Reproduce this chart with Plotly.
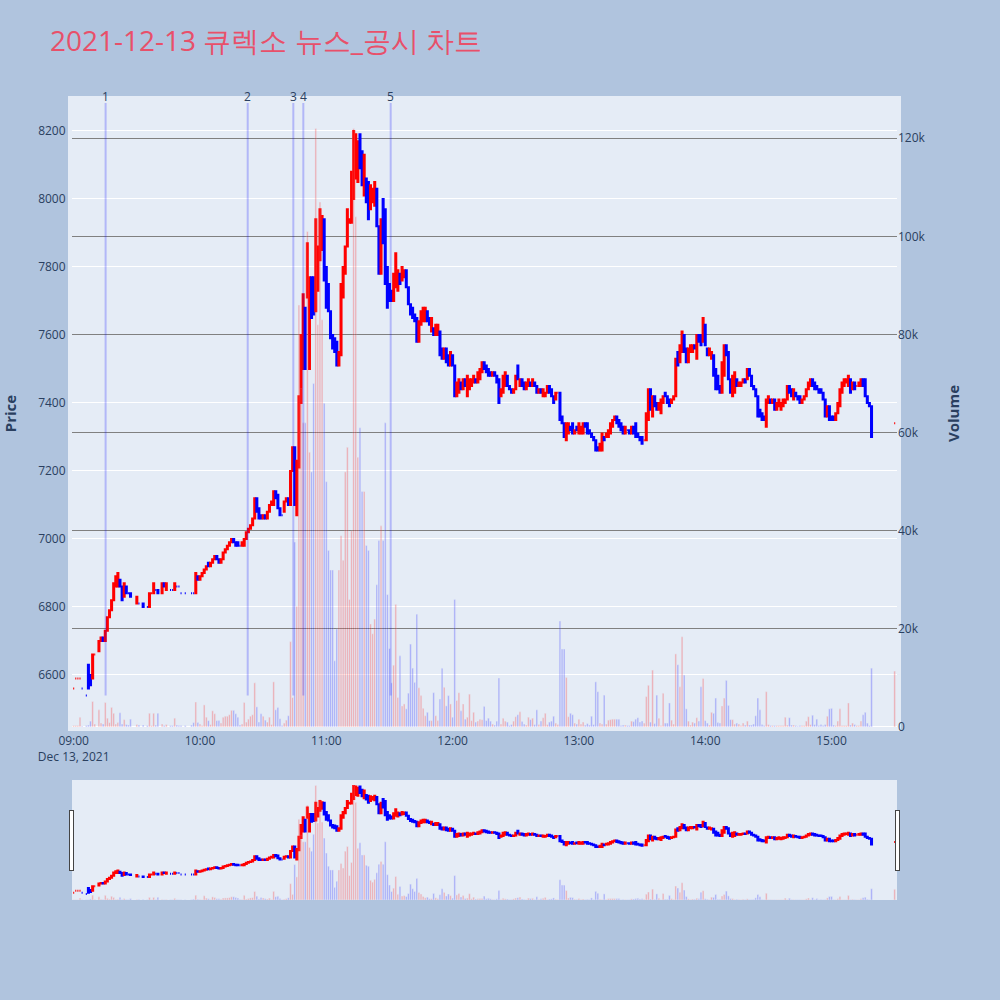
import plotly.graph_objects as go
from plotly.subplots import make_subplots
import pandas as pd

# 큐렉소 2021-12-13 1분봉 (09:00 ~ 15:30), 체결 없는 분은 None
opens = [
    6560, 6590, 6590, 6590, 6560, None, 6540, 6630, 6600, 6590,
    6660, None, 6670, 6700, 6710, 6700, 6730, 6770, 6790, 6820,
    6860, 6860, 6880, 6860, 6830, 6860, 6840, 6840, None, None,
    6810, 6810, None, 6810, None, 6800, 6800, 6840, 6840, 6850,
    6850, None, 6840, 6870, 6850, None, 6850, 6850, 6850, 6860,
    6860, 6840, None, 6840, None, None, 6840, 6840, 6840, 6890,
    6880, 6890, 6900, 6910, 6930, 6920, 6930, 6940, 6950, 6940,
    6930, 6940, 6960, 6970, 6980, 6990, 7000, 6990, 6990, 6980,
    6980, 6980, 7000, 7020, 7030, 7040, 7060, 7120, 7090, 7070,
    7060, 7070, 7060, 7080, 7100, 7100, 7140, 7130, 7090, 7070,
    7080, 7110, 7120, 7100, 7200, 7270, 7070, 7210, 7400, 7500,
    7680, 7710, 7500, 7770, 7770, 7670, 7730, 7820, 7850, 7940,
    7800, 7750, 7670, 7600, 7590, 7580, 7510, 7540, 7710, 7780,
    7860, 7930, 7930, 8000, 8060, 8050, 8190, 8140, 8010, 8060,
    8050, 7970, 7990, 7980, 8030, 7920, 7780, 8000, 7970, 7800,
    7750, 7730, 7700, 7740, 7730, 7780, 7760, 7770, 7790, 7740,
    7690, 7680, 7660, 7650, 7580, 7630, 7640, 7640, 7670, 7650,
    7610, 7620, 7600, 7600, 7610, 7560, 7530, 7560, 7540, 7510,
    7540, 7510, 7420, 7430, 7460, 7440, 7470, 7420, 7440, 7450,
    7460, 7470, 7460, 7470, 7490, 7520, 7510, 7500, 7490, 7480,
    7490, 7480, 7470, 7420, 7430, 7450, 7480, 7450, 7440, 7430,
    7440, 7510, 7450, 7470, 7460, 7440, 7450, 7460, 7450, 7460,
    7450, 7430, 7440, 7420, 7420, 7430, 7450, 7440, 7420, 7410,
    7430, 7430, 7360, 7340, 7290, 7310, 7330, 7340, 7310, 7330,
    7310, 7310, 7310, 7340, 7340, 7320, 7310, 7300, 7290, 7270,
    7260, 7260, 7300, 7300, 7300, 7310, 7330, 7350, 7360, 7350,
    7340, 7330, 7310, 7320, 7320, 7310, 7330, 7340, 7310, 7300,
    7300, 7290, 7290, 7350, 7440, 7360, 7420, 7400, 7380, 7370,
    7400, 7430, 7420, 7410, 7400, 7410, 7420, 7550, 7520, 7550,
    7600, 7560, 7520, 7550, 7550, 7570, 7530, 7600, 7600, 7580,
    7630, 7560, 7540, 7530, 7540, 7500, 7480, 7450, 7430, 7480,
    7570, 7550, 7470, 7420, 7430, 7470, 7450, 7450, 7460, 7470,
    7470, 7500, 7480, 7450, 7440, 7420, 7380, 7370, 7360, 7330,
    7400, 7410, 7400, 7410, 7380, 7390, 7380, 7390, 7400, 7410,
    7450, 7440, 7410, 7430, 7420, 7420, 7400, 7410, 7420, 7440,
    7450, 7470, 7460, 7450, 7440, 7440, 7430, 7410, 7360, 7390,
    7360, 7360, 7350, 7370, 7390, 7430, 7450, 7460, 7450, 7470,
    7440, 7460, 7450, 7450, 7450, 7470, 7470, 7420, 7400, 7390,
    None, None, None, None, None, None, None, None, None, None,
    7340,
]

closes = [
    6560, 6590, 6590, 6590, 6560, None, 6540, 6560, 6570, 6660,
    6660, None, 6700, 6710, 6700, 6730, 6770, 6790, 6820, 6870,
    6890, 6900, 6860, 6820, 6870, 6840, 6840, 6830, None, None,
    6830, 6810, None, 6800, None, 6800, 6840, 6840, 6870, 6850,
    6840, None, 6870, 6860, 6870, None, 6850, 6850, 6870, 6860,
    6860, 6840, None, 6840, None, None, 6840, 6840, 6900, 6880,
    6890, 6900, 6910, 6920, 6920, 6930, 6940, 6950, 6940, 6930,
    6940, 6960, 6970, 6980, 6990, 7000, 6990, 6980, 6980, 6980,
    6990, 7000, 7020, 7030, 7040, 7060, 7120, 7080, 7060, 7060,
    7070, 7060, 7080, 7100, 7110, 7140, 7120, 7090, 7070, 7070,
    7110, 7120, 7100, 7200, 7270, 7100, 7230, 7420, 7600, 7720,
    7500, 7870, 7770, 7650, 7660, 7940, 7860, 7970, 7950, 7760,
    7680, 7670, 7590, 7560, 7550, 7510, 7550, 7750, 7800, 7860,
    7970, 7940, 8080, 8200, 8190, 8170, 8090, 8040, 8130, 7990,
    7940, 8040, 8030, 8050, 7920, 7780, 7940, 7870, 7750, 7680,
    7700, 7700, 7780, 7840, 7790, 7750, 7800, 7790, 7740, 7690,
    7660, 7650, 7640, 7580, 7640, 7670, 7680, 7680, 7640, 7630,
    7650, 7600, 7630, 7630, 7540, 7530, 7560, 7520, 7510, 7550,
    7510, 7420, 7460, 7470, 7440, 7470, 7450, 7480, 7470, 7470,
    7480, 7460, 7490, 7500, 7520, 7500, 7490, 7480, 7480, 7490,
    7480, 7460, 7400, 7440, 7480, 7490, 7450, 7440, 7430, 7440,
    7480, 7470, 7470, 7450, 7440, 7460, 7470, 7450, 7470, 7450,
    7430, 7440, 7430, 7440, 7430, 7450, 7430, 7420, 7400, 7430,
    7430, 7350, 7340, 7300, 7340, 7340, 7320, 7310, 7320, 7320,
    7340, 7330, 7340, 7330, 7310, 7310, 7300, 7290, 7260, 7260,
    7280, 7310, 7290, 7310, 7320, 7340, 7350, 7360, 7340, 7330,
    7320, 7310, 7330, 7320, 7310, 7330, 7310, 7300, 7300, 7290,
    7280, 7290, 7370, 7440, 7380, 7420, 7390, 7380, 7400, 7410,
    7420, 7420, 7400, 7390, 7410, 7420, 7530, 7510, 7570, 7610,
    7550, 7520, 7560, 7570, 7570, 7560, 7600, 7580, 7570, 7650,
    7570, 7540, 7560, 7550, 7480, 7440, 7440, 7430, 7520, 7570,
    7540, 7470, 7430, 7480, 7490, 7450, 7460, 7460, 7470, 7460,
    7500, 7480, 7450, 7440, 7420, 7360, 7360, 7350, 7350, 7410,
    7420, 7400, 7410, 7380, 7400, 7410, 7400, 7410, 7410, 7450,
    7430, 7420, 7440, 7420, 7410, 7400, 7410, 7420, 7440, 7460,
    7470, 7450, 7440, 7440, 7430, 7430, 7410, 7360, 7390, 7350,
    7350, 7350, 7370, 7400, 7440, 7460, 7470, 7470, 7480, 7430,
    7460, 7440, 7450, 7460, 7470, 7450, 7420, 7400, 7390, 7300,
    None, None, None, None, None, None, None, None, None, None,
    7340,
]

volumes = [
    300, 300, 300, 2000, 200, None, 300, 400, 1200, 5200,
    600, None, 3500, 800, 600, 5000, 1800, 900, 4000, 2800,
    600, 900, 2900, 600, 1500, 500, 400, 1600, None, None,
    500, 400, None, 400, None, 300, 2800, 300, 2800, 400,
    2800, None, 600, 300, 500, None, 300, 300, 1800, 400,
    300, 300, None, 300, None, None, 400, 900, 5100, 900,
    600, 300, 4500, 2000, 1300, 500, 3300, 2700, 1300, 1300,
    800, 2000, 2200, 2200, 2500, 3400, 3400, 2700, 2000, 400,
    600, 5000, 1000, 1600, 2200, 2500, 9000, 4100, 1000, 2700,
    2200, 1400, 1000, 2000, 500, 9200, 3500, 4000, 1700, 300,
    800, 1400, 2300, 17400, 6000, 37700, 24600, 86000, 69000, 62000,
    62000, 101000, 56000, 52000, 70000, 122000, 82000, 107000, 83000, 66000,
    50000, 36000, 32000, 32000, 13500, 20000, 32000, 39000, 34000, 52000,
    57000, 26000, 40000, 122000, 104000, 55000, 61000, 48000, 48000, 37000,
    36000, 21000, 19000, 22000, 29000, 38000, 41000, 38000, 62000, 27000,
    16000, 9000, 12600, 25000, 6000, 14500, 4300, 4700, 3700, 6900,
    16900, 12000, 9100, 23000, 8000, 6400, 3800, 2300, 3000, 1300,
    1300, 7000, 2300, 1300, 5700, 12000, 8100, 4300, 6400, 4700,
    2000, 26000, 5400, 7000, 3300, 4700, 1600, 2000, 6700, 1300,
    3000, 1000, 1200, 1600, 1500, 4200, 1300, 1800, 1200, 600,
    400, 1200, 10000, 600, 1800, 1200, 1000, 300, 500, 1200,
    2100, 2500, 3100, 1100, 600, 400, 2000, 1500, 1800, 500,
    3500, 500, 1200, 1900, 2800, 500, 1000, 1200, 2200, 800,
    500, 21600, 15900, 15900, 10100, 2100, 2800, 2500, 800, 600,
    1600, 600, 1000, 400, 700, 400, 2200, 500, 9200, 7200,
    800, 600, 6500, 600, 1400, 1500, 1600, 1600, 1600, 1600,
    300, 400, 400, 300, 300, 1200, 1100, 1600, 1900, 1000,
    1200, 800, 6200, 8500, 1000, 11600, 700, 6500, 1800, 300,
    6900, 800, 800, 4900, 1400, 600, 14900, 12700, 8200, 18400,
    10600, 3700, 1200, 400, 1000, 800, 1900, 1200, 8200, 9900,
    1300, 800, 400, 3000, 2800, 5900, 900, 800, 4300, 5900,
    9500, 4400, 1500, 1500, 600, 800, 600, 300, 800, 400,
    1200, 400, 400, 600, 2300, 5900, 3500, 500, 300, 7200,
    500, 300, 300, 300, 300, 300, 300, 300, 2000, 400,
    1900, 400, 400, 300, 200, 300, 300, 300, 1200, 2100,
    500, 2400, 500, 1600, 300, 500, 300, 500, 2200, 3700,
    3800, 400, 300, 1200, 3700, 300, 300, 300, 4900, 400,
    800, 500, 300, 300, 1200, 2500, 3000, 800, 300, 12000,
    None, None, None, None, None, None, None, None, None, None,
    11400,
]

# 뉴스/공시 시각
news_times = ['2021-12-13 09:15:10', '2021-12-13 10:22:40', '2021-12-13 10:44:20',
              '2021-12-13 10:49:05', '2021-12-13 11:30:35']
news_labels = ['1', '2', '3', '4', '5']
news_low, news_high = 6540, 8282

minutes = pd.date_range('2021-12-13 09:00', periods=len(closes), freq='min')
df = pd.DataFrame({'time': minutes, 'open': opens, 'close': closes, 'volume': volumes}).dropna()
df['high'] = df[['open', 'close']].max(axis=1)
df['low'] = df[['open', 'close']].min(axis=1)

# 봉 방향에 맞춘 거래량 색
bar_colors = []
prev_close, prev_up = None, True
for o, c in zip(df['open'], df['close']):
    if c != o:
        up = c > o
    elif prev_close is not None and c != prev_close:
        up = c > prev_close
    else:
        up = prev_up
    bar_colors.append('red' if up else 'blue')
    prev_close, prev_up = c, up

fig = make_subplots(specs=[[{"secondary_y": True}]])

fig.add_trace(go.Candlestick(x=df['time'], open=df['open'], high=df['high'], low=df['low'], close=df['close'],
                             increasing=dict(line=dict(color='red'), fillcolor='red'),
                             decreasing=dict(line=dict(color='blue'), fillcolor='blue'),
                             name='Price'), secondary_y=False)
fig.add_trace(go.Bar(x=df['time'], y=df['volume'], marker_color=bar_colors, opacity=0.28, name='Volume'),
              secondary_y=True)

for t, lab in zip(news_times, news_labels):
    fig.add_shape(type='line', x0=t, x1=t, y0=news_low, y1=news_high, xref='x', yref='y',
                  line=dict(color='blue', width=2), opacity=0.22)
    fig.add_annotation(x=t, y=news_high, text=lab, showarrow=False, yanchor='bottom', yshift=-4,
                       font=dict(size=12, color='#2a3f5f'))

x_range = ['2021-12-13 08:59:12', '2021-12-13 15:31:06']
fig.update_layout(
    width=1000, height=1000,
    title=dict(text='2021-12-13 큐렉소 뉴스_공시 차트', x=0.05, y=0.959, yanchor='middle',
               font=dict(size=28, color='#E8506A')),
    paper_bgcolor='lightsteelblue',
    showlegend=False,
    margin=dict(l=72, r=103, t=100, b=100),
)
fig.update_xaxes(domain=[0, 1], range=x_range, showgrid=False,
                 showline=True, linewidth=4, linecolor='#E5ECF6', mirror=True,
                 rangeslider=dict(visible=True, thickness=0.15, bgcolor='#E5ECF6', range=x_range))
fig.update_yaxes(title_text='<b>Price</b>', title_font=dict(size=15), title_standoff=24, automargin=False,
                 range=[6447, 8291], showline=True, linewidth=4, linecolor='#E5ECF6', mirror=True,
                 secondary_y=False)
fig.update_yaxes(title_text='<b>Volume</b>', title_font=dict(size=15), title_standoff=23, automargin=False,
                 range=[0, 127800], gridcolor='gray', secondary_y=True)

fig.write_html("out.html", config={'displayModeBar': False},
               post_script="document.body.style.margin='0';")
